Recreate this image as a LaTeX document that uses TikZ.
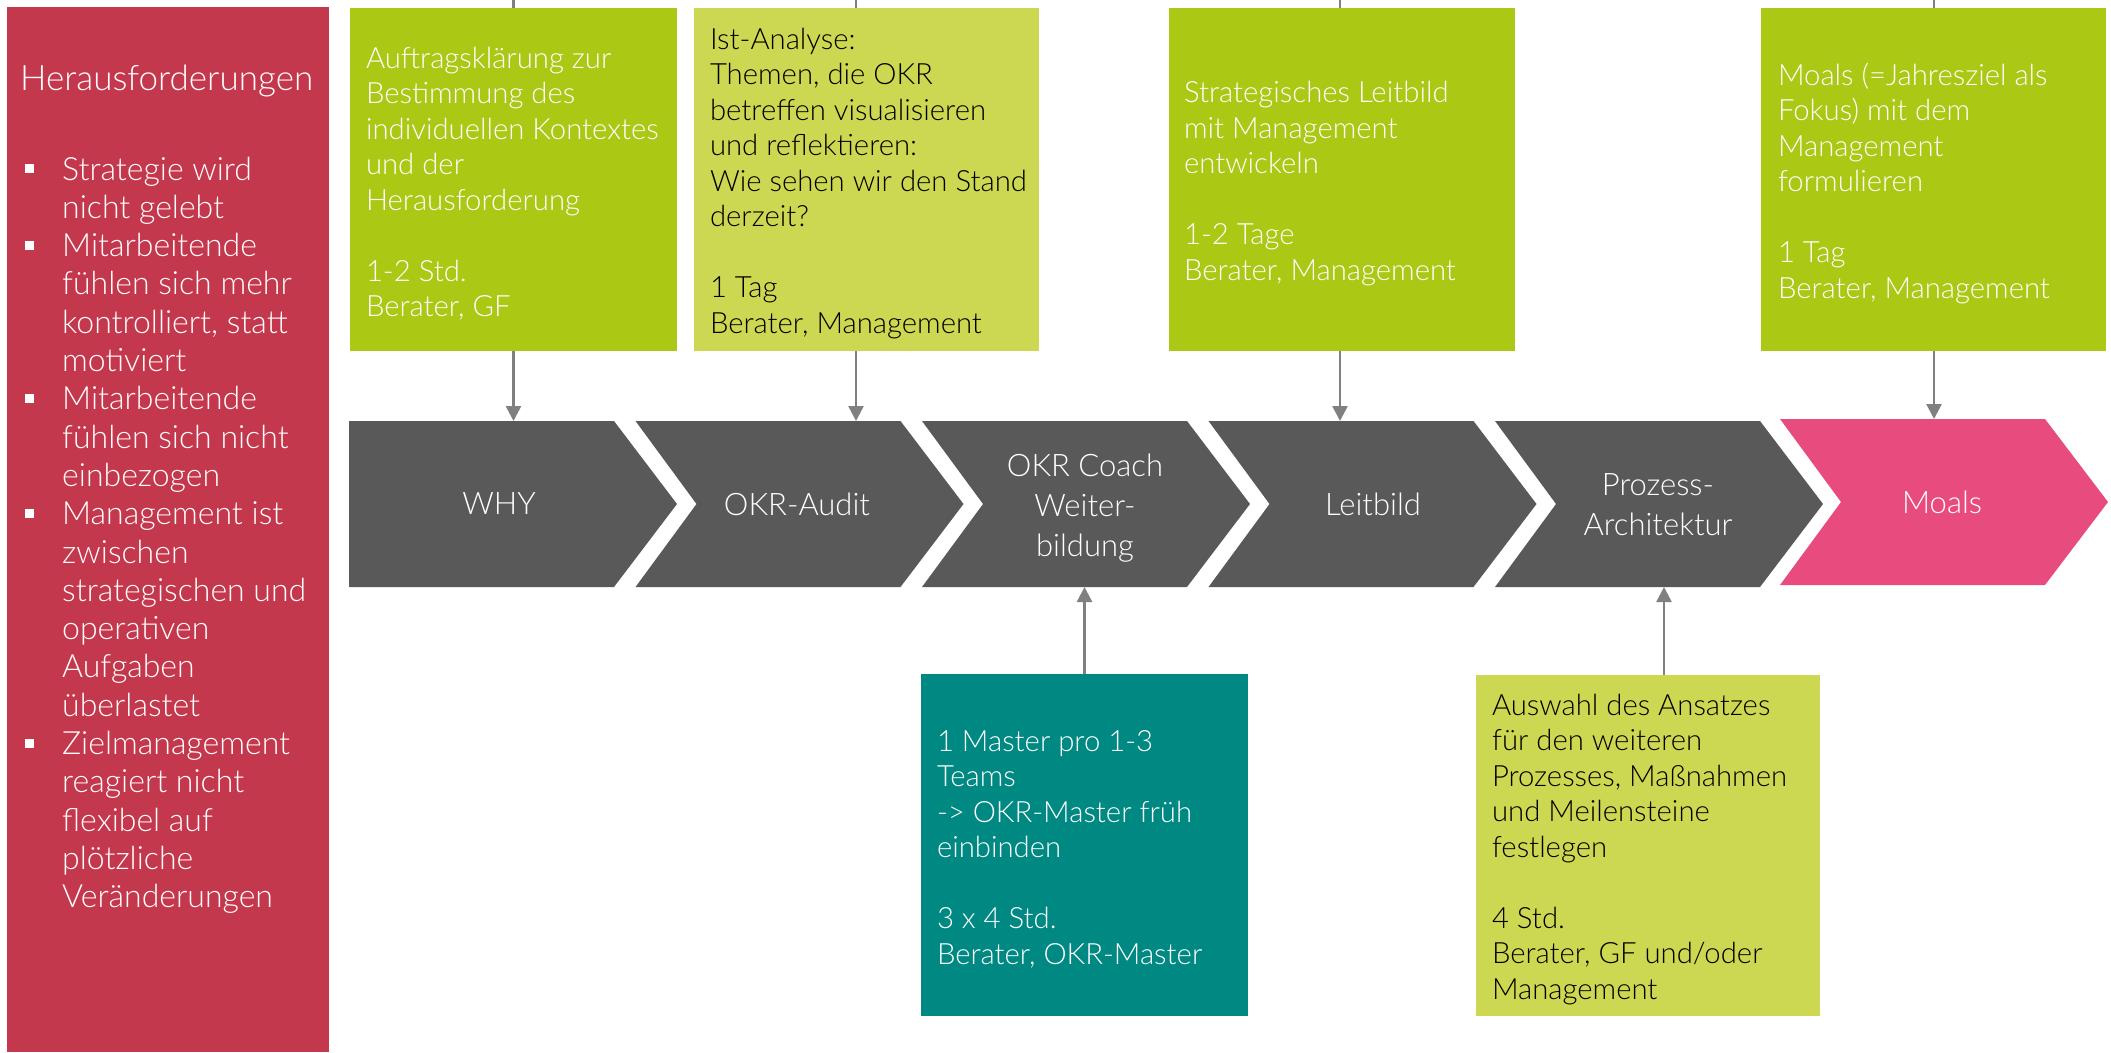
\documentclass[tikz,border=0pt]{standalone}
\usepackage{fontspec}
\setmainfont{Lato Light}
\usetikzlibrary{arrows.meta,backgrounds}
\definecolor{redbox}{HTML}{C4384E}
\definecolor{grnbox}{HTML}{ABC815}
\definecolor{ltgbox}{HTML}{CCD852}
\definecolor{tealbox}{HTML}{008982}
\definecolor{chevgray}{HTML}{595959}
\definecolor{moalpink}{HTML}{E84C7E}
\definecolor{arrgray}{HTML}{808080}
\newcommand\mybul{\leavevmode\llap{\rule[7pt]{9pt}{9pt}\hspace{28pt}}}
\tikzset{
  boxfill/.style={rectangle, inner sep=0pt},
  boxtext/.style={anchor=west, inner sep=0pt, align=left,
    font=\fontsize{29.3}{35.5}\selectfont},
  chevtext/.style={text=white, align=center, font=\fontsize{31}{40}\selectfont, inner sep=0pt},
  arr/.style={draw=arrgray, line width=2.5pt, -{Triangle[length=15pt,width=15pt]}}
}
\newcommand\chevn[2]{\fill[#2] (#1,421) -- ++(265,0) -- ++(63,83) -- ++(-63,83) -- ++(-265,0) -- ++(61,-83) -- cycle;}
\begin{document}
\begin{tikzpicture}[x=1pt,y=-1pt]
\useasboundingbox (0,0) rectangle (2111,1052);
% left panel
\node[fill=redbox, minimum width=322pt, minimum height=1045pt, anchor=north west, inner sep=0pt] (red) at (7,7) {};
\node[anchor=base west, inner sep=0pt, text=white, font=\fontsize{35}{40}\selectfont] (head) at (20,90) {Herausforderungen};
\node[anchor=base west, inner sep=0pt, text=white] (bullets) at (62,180) {\parbox[t]{262pt}{\fontsize{32}{38.3}\selectfont
\mybul Strategie wird\\
nicht gelebt\\
\mybul Mitarbeitende\\
fühlen sich mehr\\
kontrolliert, statt\\
motiviert\\
\mybul Mitarbeitende\\
fühlen sich nicht\\
einbezogen\\
\mybul Management ist\\
zwischen\\
strategischen und\\
operativen\\
Aufgaben\\
überlastet\\
\mybul Zielmanagement\\
reagiert nicht\\
flexibel auf\\
plötzliche\\
Veränderungen}};
% top boxes
\node[boxfill, fill=grnbox, minimum width=327pt, minimum height=343pt] (b1) at (513.5,179.5) {};
\node[boxtext, text=white] (t1) at ([xshift=16pt,yshift=-4pt]b1.west)
 {Auftragsklärung zur\\Bestimmung des\\individuellen Kontextes\\und der\\Herausforderung\\[35.5pt]1-2 Std.\\Berater, GF};
\node[boxfill, fill=ltgbox, minimum width=345pt, minimum height=343pt] (b2) at (866.5,179.5) {};
\node[boxtext, text=black] (t2) at ([xshift=16pt,yshift=-4pt]b2.west)
 {Ist-Analyse:\\Themen, die OKR\\betreffen visualisieren\\und reflektieren:\\Wie sehen wir den Stand\\derzeit?\\[35.5pt]1 Tag\\Berater, Management};
\node[boxfill, fill=grnbox, minimum width=346pt, minimum height=343pt] (b3) at (1342,179.5) {};
\node[boxtext, text=white] (t3) at ([xshift=15pt,yshift=-4pt]b3.west)
 {Strategisches Leitbild\\mit Management\\entwickeln\\[35.5pt]1-2 Tage\\Berater, Management};
\node[boxfill, fill=grnbox, minimum width=345pt, minimum height=343pt] (b4) at (1933.5,179.5) {};
\node[boxtext, text=white] (t4) at ([xshift=17pt,yshift=-4pt]b4.west)
 {Moals (=Jahresziel als\\Fokus) mit dem\\Management\\formulieren\\[35.5pt]1 Tag\\Berater, Management};
% bottom boxes
\node[boxfill, fill=tealbox, minimum width=327pt, minimum height=342pt] (b5) at (1084.5,845) {};
\node[boxtext, text=white] (t5) at ([xshift=16pt,yshift=-4pt]b5.west)
 {1 Master pro 1-3\\Teams\\-> OKR-Master früh\\einbinden\\[35.5pt]3 x 4 Std.\\Berater, OKR-Master};
\node[boxfill, fill=ltgbox, minimum width=344pt, minimum height=341pt] (b6) at (1648,845.5) {};
\node[boxtext, text=black] (t6) at ([xshift=16pt,yshift=-4pt]b6.west)
 {Auswahl des Ansatzes\\für den weiteren\\Prozesses, Maßnahmen\\und Meilensteine\\festlegen\\[35.5pt]4 Std.\\Berater, GF und/oder\\Management};
% chevrons
\fill[chevgray] (349,421) -- ++(265,0) -- ++(63,83) -- ++(-63,83) -- ++(-265,0) -- cycle;
\chevn{635.5}{chevgray}
\chevn{922}{chevgray}
\chevn{1208.5}{chevgray}
\chevn{1495}{chevgray}
\fill[moalpink] (1780,419) -- ++(265,0) -- ++(63,83) -- ++(-63,83) -- ++(-265,0) -- ++(61,-83) -- cycle;
\node[chevtext] (c1) at (499,504) {WHY};
\node[chevtext] (c2) at (797,504) {OKR-Audit};
\node[chevtext] (c3) at (1085,508) {OKR Coach\\Weiter-\\bildung};
\node[chevtext] (c4) at (1373,504) {Leitbild};
\node[chevtext] (c5) at (1658,505) {Prozess-\\Architektur};
\node[chevtext] (c6) at (1942,502) {Moals};
% connector ends on the chevrons
\coordinate (k1) at (513.5,421);
\coordinate (k2) at (856,421);
\coordinate (k3) at (1340,421);
\coordinate (k4) at (1934,419);
\coordinate (k5) at (1084.5,587);
\coordinate (k6) at (1664,587);
\begin{scope}[on background layer]
\draw[arr] (b1.north -| k1) ++(0,-8) -- (k1);
\draw[arr] (b2.north -| k2) ++(0,-8) -- (k2);
\draw[arr] (b3.north -| k3) ++(0,-8) -- (k3);
\draw[arr] (b4.north -| k4) ++(0,-8) -- (k4);
\draw[arr] (b5.center -| k5) -- (k5);
\draw[arr] (b6.center -| k6) -- (k6);
\end{scope}
\end{tikzpicture}
\end{document}
